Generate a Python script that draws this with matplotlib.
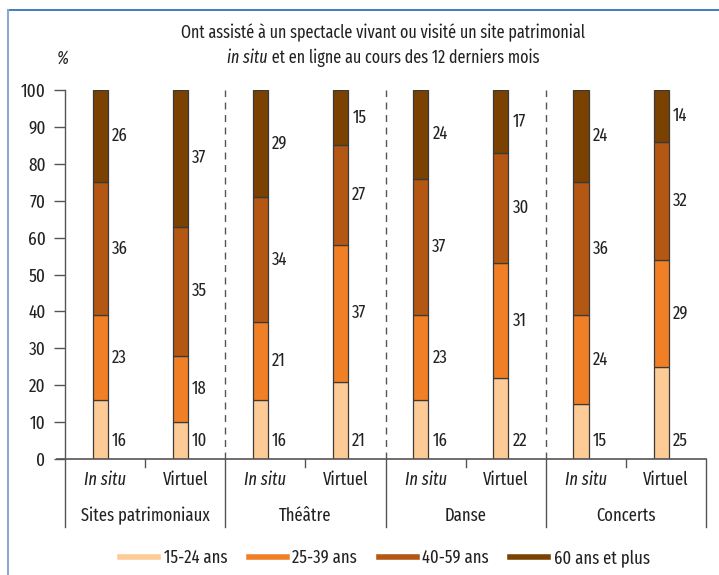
import matplotlib
matplotlib.use("Agg")
import matplotlib.pyplot as plt
from matplotlib.lines import Line2D

plt.rcParams['font.family'] = ['Fira Sans Extra Condensed', 'DejaVu Sans']

groups = ["Sites patrimoniaux", "Théâtre", "Danse", "Concerts"]
modes = ["In situ", "Virtuel"]
series_names = ["15-24 ans", "25-39 ans", "40-59 ans", "60 ans et plus"]
colors = ["#FDCB95", "#F07F26", "#B35713", "#7A4100"]

age_15_24 = [16, 10, 16, 21, 16, 22, 15, 25]
age_25_39 = [23, 18, 21, 37, 23, 31, 24, 29]
age_40_59 = [36, 35, 34, 27, 37, 30, 36, 32]
age_60_plus = [26, 37, 29, 15, 24, 17, 24, 14]

series = [age_15_24, age_25_39, age_40_59, age_60_plus]

fig = plt.figure(figsize=(7.19, 5.75), dpi=100)
ax = fig.add_axes([65/719, 1-459/575, 641/719, 369/575])
ax.set_xlim(0, 8)
ax.set_ylim(0, 100)

txt = "#222222"
axc = "#555555"
bw = 0.19
n = len(age_15_24)
xs = [i + 0.44 for i in range(n)]

for i in range(n):
    bottom = 0
    for s_idx, s in enumerate(series):
        v = s[i]
        h = v if s_idx < 3 else 100 - bottom
        ax.bar(xs[i], h, bottom=bottom, width=bw, color=colors[s_idx],
               edgecolor="#3a3a3a", linewidth=0.9, zorder=3)
        ly = 5 if s_idx == 0 else bottom + h / 2
        ax.text(xs[i] + bw/2 + 0.05, ly, str(v), ha="left", va="center",
                fontsize=13, color=txt)
        bottom += h

for s in ax.spines.values():
    s.set_visible(False)
ax.set_xticks([])
ax.set_yticks(range(0, 101, 10))
ax.tick_params(axis="y", length=8, width=1, color=axc, pad=6, labelsize=13.5, labelcolor=txt)

ybot = -18.4
ax.plot([0, 0], [100, ybot], color=axc, lw=1, clip_on=False, zorder=4)
ax.plot([-0.1, 8], [0, 0], color=axc, lw=1.2, clip_on=False, zorder=4)
for g in range(1, 5):
    xg = 2 * g
    if g < 4:
        ax.plot([xg, xg], [0, 100], color=axc, lw=1, ls=(0, (5, 4)), clip_on=False)
    ax.plot([xg, xg], [0, ybot], color=axc, lw=1, clip_on=False)
    ax.plot([xg - 1, xg - 1], [0, -2.2], color=axc, lw=1, clip_on=False)

for i in range(n):
    m = modes[i % 2]
    ax.text(i + 0.5, -5.7, m, ha="center", va="center", fontsize=13, color=txt,
            style="italic" if m == "In situ" else "normal")
for g, name in enumerate(groups):
    ax.text(2 * g + 1, -15.4, name, ha="center", va="center", fontsize=13, color=txt)

title_fs = 12.6
fig.text(383/719, 1-33/575, "Ont assisté à un spectacle vivant ou visité un site patrimonial",
         ha="center", va="center", fontsize=title_fs, color=txt)
fig.canvas.draw()
r = fig.canvas.get_renderer()
a = fig.text(0, 1-58/575, "in situ", ha="left", va="center", fontsize=title_fs, style="italic", color=txt)
b = fig.text(0, 1-58/575, " et en ligne au cours des 12 derniers mois", ha="left", va="center",
             fontsize=title_fs, color=txt)
wa = a.get_window_extent(r).width
wb = b.get_window_extent(r).width
x0 = 383 - (wa + wb) / 2
a.set_x(x0 / 719)
b.set_x((x0 + wa) / 719)

fig.text(63/719, 1-58/575, "%", ha="center", va="center", fontsize=title_fs, style="italic", color=txt)

handles = [Line2D([0], [0], color=c, lw=4) for c in colors]
fig.legend(handles, series_names, loc="center", bbox_to_anchor=(385/719, 1-558/575),
           ncol=4, frameon=False, fontsize=13, handlelength=2.1, handletextpad=0.3,
           columnspacing=1.2, labelcolor=txt)

fig.add_artist(Line2D([8/719, 1], [1-10/575, 1-10/575], color="#2266B0", lw=1.2))
fig.add_artist(Line2D([8/719, 8/719], [0, 1-10/575], color="#8AA8D0", lw=1.5))

fig.savefig("out.png", dpi=100)
